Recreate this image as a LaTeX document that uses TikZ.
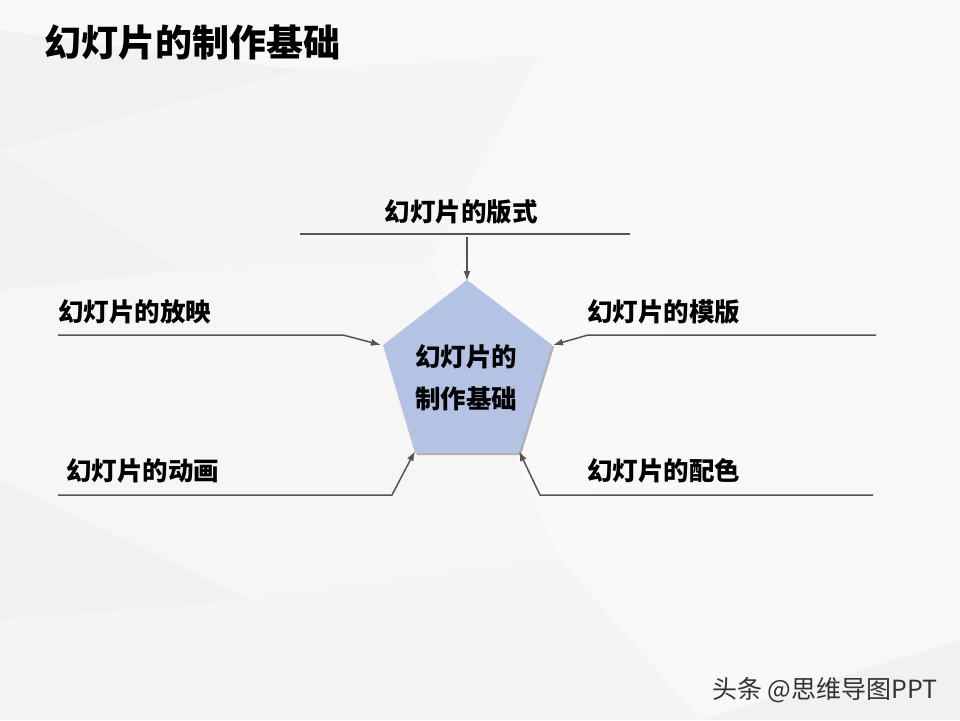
\documentclass[tikz,border=0pt]{standalone}
\usepackage{fontspec}
\usetikzlibrary{arrows.meta}
\setmainfont{Noto Sans CJK SC}
\definecolor{bgray}{HTML}{F1F1F1}
\definecolor{lgray}{HTML}{555555}
\definecolor{pblue}{HTML}{B4C3E3}
\begin{document}
\begin{tikzpicture}[x=1pt,y=-1pt,->,>={Latex[length=10pt,width=7pt]}]
\tikzset{lab/.style = {anchor=west,inner sep=0pt,font=\bfseries\fontsize{25.5}{25.5}\selectfont,text height=0.8em,text depth=0.1em},
  conn/.style = {-,lgray,line width=1.5pt},
  facet/.style = {draw=none,fill=white,opacity=0.5}}
\useasboundingbox (0,0) rectangle (960,720);
% background facets
\fill[bgray] (0,0) rectangle (960,720);
\fill[facet] (0,0) -- (960,0) -- (960,130) -- (770,110) -- (540,55) -- (300,70) -- (0,30) -- cycle;
\fill[facet,opacity=0.3] (0,150) -- (300,70) -- (540,55) -- (430,260) -- (180,270) -- cycle;
\fill[facet] (540,55) -- (770,110) -- (960,130) -- (960,300) -- (700,260) -- (430,260) -- cycle;
\fill[facet,opacity=0.6] (430,260) -- (700,260) -- (560,560) -- cycle;
\fill[facet,opacity=0.4] (180,270) -- (430,260) -- (560,560) -- (250,600) -- (0,480) -- (0,290) -- cycle;
\fill[facet] (700,260) -- (960,300) -- (960,640) -- (700,720) -- (560,560) -- cycle;
\fill[facet,opacity=0.25] (0,620) -- (250,600) -- (560,560) -- (700,720) -- (0,720) -- cycle;
% pentagon corners
\coordinate (p1) at (467,280); \coordinate (p2) at (552,345); \coordinate (p3) at (519,453);
\coordinate (p4) at (415,453); \coordinate (p5) at (383,345);
\fill[gray!60,-] ([shift={(2,2)}]p1) -- ([shift={(2,2)}]p2) -- ([shift={(2,2)}]p3) -- ([shift={(2,2)}]p4) -- ([shift={(2,2)}]p5) -- cycle;
\fill[pblue,-] (p1) -- (p2) -- (p3) -- (p4) -- (p5) -- cycle;
\node(0) at (466,378) [align=center,inner sep=0pt,font=\bfseries\fontsize{25.5}{42}\selectfont] {幻灯片的\\制作基础};
% title and labels
\node(t) at (44,53) [lab,font=\bfseries\fontsize{37}{37}\selectfont] {幻灯片的制作基础};
\node(1) at (461,218) [lab,anchor=center] {幻灯片的版式};
\node(2) at (587,318) [lab] {幻灯片的模版};
\node(3) at (587,477) [lab] {幻灯片的配色};
\node(4) at (66,477) [lab] {幻灯片的动画};
\node(5) at (58,318) [lab] {幻灯片的放映};
% line ends
\coordinate (a1) at (300,234); \coordinate (b1) at (630,234); \coordinate (c1) at (467,237);
\coordinate (a2) at (876,335); \coordinate (b2) at (588,335);
\coordinate (a3) at (873,495); \coordinate (b3) at (540,495);
\coordinate (a4) at (58,495);  \coordinate (b4) at (392,495);
\coordinate (a5) at (58,335);  \coordinate (b5) at (343,335);
\draw[conn] (a1) -- (b1);
\draw[conn,->] (c1) -> ([yshift=-1]p1);
\draw[conn,->] (a2) -- (b2) -> ([xshift=1]p2);
\draw[conn,->] (a3) -- (b3) -> ([yshift=2]p3);
\draw[conn,->] (a4) -- (b4) -> ([yshift=2]p4);
\draw[conn,->] (a5) -- (b5) -> ([xshift=-2]p5);
% watermark
\node(w) at (712,690) [anchor=west,inner sep=0pt,text=black!80,font=\fontsize{25}{25}\selectfont] {头条 @思维导图PPT};
\end{tikzpicture}
\end{document}
